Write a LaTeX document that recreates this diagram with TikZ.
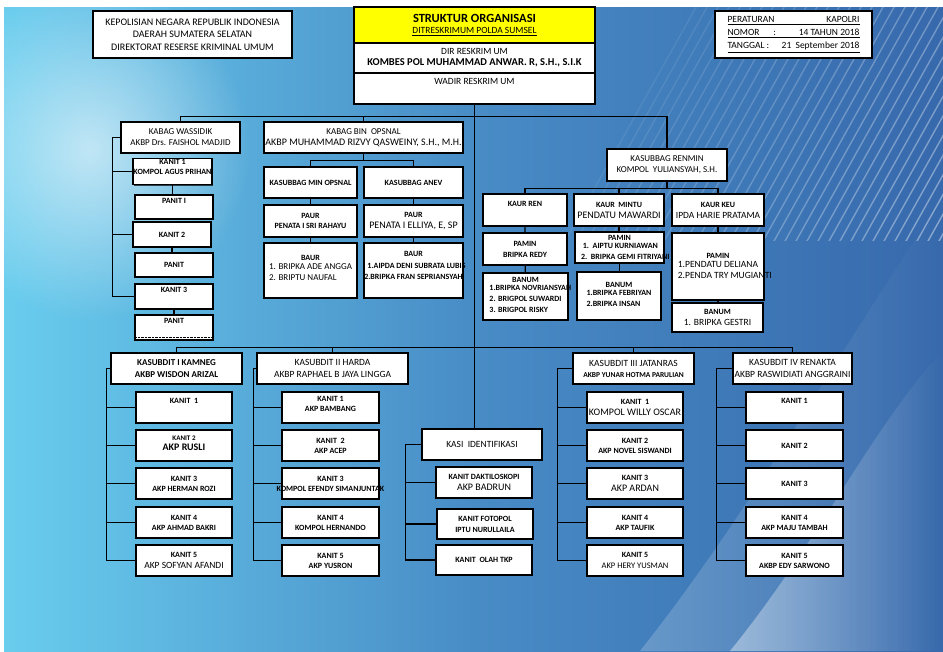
\documentclass[tikz,border=0pt]{standalone}
\usepackage{fontspec}
\setmainfont{Carlito}
\usetikzlibrary{shadows,fadings}

\definecolor{bgL}{RGB}{105,205,238}
\definecolor{bgM}{RGB}{72,140,198}
\definecolor{bgR}{RGB}{55,105,172}
\definecolor{titleY}{RGB}{255,255,0}
\tikzfading[name=glow,inner color=transparent!0,outer color=transparent!100]

% box from corner (x1,y1) to corner (x2,y2), then its name
\newcommand{\bx}[6][]{%
  \node[box,#1,minimum width={#4-#2},minimum height={#5-#3}] (#6) at ({(#2+#4)/2},{(#3+#5)/2})}
\newcommand{\ov}[1]{\makebox[0pt]{#1}}
\newcommand{\thul}[1]{\setbox0\hbox{#1}\leavevmode\rlap{\rule[-2.6pt]{\wd0}{1.3pt}}\box0}

\begin{document}
\begin{tikzpicture}[x=1pt,y=-1pt,
    box/.style={draw=black,line width=1.2pt,fill=white,inner sep=1pt,align=center,
      font=\fontsize{9}{11}\selectfont,
      drop shadow={shadow xshift=1pt,shadow yshift=-1pt,opacity=.7,fill=black}},
    kb/.style={font=\fontsize{8}{10}\selectfont\bfseries},
    link/.style={line width=1.2pt}]

  \useasboundingbox (0,0) rectangle (943,651);
  \fill[white] (0,0) rectangle (943,651);
  \shade[left color=bgL,right color=bgR,middle color=bgM] (4,7) rectangle (943,651);
  \fill[white,path fading=glow,opacity=.6] (90,150) ellipse (160 and 170);
  \fill[white,opacity=.4,path fading=east] (730,651) .. controls (820,540) and (870,430) .. (943,350) -- (943,651) -- cycle;
  \fill[white,opacity=.2,path fading=east] (640,651) .. controls (760,500) and (850,330) .. (943,200) -- (943,651) -- cycle;
  \begin{scope}
    \clip (560,7) rectangle (943,240);
    \foreach \i in {0,...,34}
      \draw[white,opacity={0.08+\i*0.01},line width=1.4pt] (560+\i*11,250) -- ++(140,-250);
  \end{scope}

  % heading
  \bx[font=\fontsize{10}{12.5}\selectfont]{93}{11}{292}{58}{hdrl}{KEPOLISIAN NEGARA REPUBLIK INDONESIA\\DAERAH SUMATERA SELATAN\\DIREKTORAT RESERSE KRIMINAL UMUM};
  \bx[align=left,font=\fontsize{9.5}{13}\selectfont]{715}{11}{872}{58}{hdrr}{\underline{\makebox[132pt][l]{PERATURAN\hfill KAPOLRI}}\\
    \underline{\makebox[132pt][l]{NOMOR\hspace{14pt}:\hfill 14 TAHUN 2018}}\\
    \underline{\makebox[132pt][l]{TANGGAL :\hfill 21\ \ September 2018}}};
  \bx[fill=titleY]{354}{7}{595}{43}{title}{\fontsize{12.5}{14}\selectfont\bfseries STRUKTUR ORGANISASI\\
    \fontsize{9.5}{13}\selectfont\mdseries\thul{DITRESKRIMUM POLDA SUMSEL}};
  \bx{354}{43}{595}{73}{dir}{\fontsize{9.5}{13}\selectfont DIR RESKRIM UM\\
    \fontsize{10.5}{12}\selectfont\bfseries KOMBES POL MUHAMMAD ANWAR. R, S.H., S.I.K};
  \bx[text depth=15pt,font=\fontsize{9.5}{11}\selectfont]{354}{73}{595}{104}{wadir}{WADIR RESKRIM UM};

  % kabag wassidik
  \bx{121}{122}{240}{153}{kabagw}{KABAG WASSIDIK\\AKBP Drs. FAISHOL MADJID};
  \bx[kb,text depth=9pt]{133}{159}{212}{184}{kw1}{KANIT 1\\\ov{KOMPOL AGUS PRIHAN}};
  \bx[kb,text depth=13pt]{135}{195}{213}{219}{pw1}{PANIT I};
  \bx[kb]{133}{222}{211}{247}{kw2}{KANIT 2};
  \bx[kb]{135}{253}{213}{277}{pw2}{PANIT};
  \bx[kb,text depth=13pt]{135}{284}{213}{309}{kw3}{KANIT 3};
  \bx[kb,text depth=13pt]{135}{315}{213}{340}{pw3}{PANIT};
  \draw[densely dotted] ([shift={(2,-3)}]pw3.south west) -- ([shift={(-2,-3)}]pw3.south east);

  % kabag bin opsnal
  \bx{264}{122}{463}{153}{kabagb}{KABAG BIN\ \ OPSNAL\\\fontsize{10}{12}\selectfont AKBP MUHAMMAD RIZVY QASWEINY, S.H., M.H.};
  \bx[kb]{264}{167}{357}{198}{ms1}{KASUBBAG MIN OPSNAL};
  \bx[kb]{364}{167}{463}{198}{ms2}{KASUBBAG ANEV};
  \bx[kb]{264}{205}{357}{237}{pa1}{PAUR\\PENATA I SRI RAHAYU};
  \bx{364}{205}{463}{237}{pa2}{\fontsize{8}{10}\selectfont\bfseries PAUR\\\fontsize{10}{12}\selectfont\mdseries PENATA I ELLIYA, E, SP};
  \bx[text depth=10pt]{264}{243}{357}{298}{ba1}{\fontsize{8}{10}\selectfont\bfseries BAUR\\\mdseries
    \begin{tabular}{@{}l@{}}1. BRIPKA ADE ANGGA\\2. BRIPTU NAUFAL\end{tabular}};
  \bx[kb,font=\fontsize{8}{11.5}\selectfont\bfseries,text depth=10pt]{364}{243}{463}{298}{ba2}{BAUR\\\ov{\hspace{6pt}1.AIPDA DENI SUBRATA LUBIS}\\\ov{2.BRIPKA FRAN SEPRIANSYAH}};

  % kasubbag renmin
  \bx{607}{149}{727}{181}{ren}{KASUBBAG RENMIN\\KOMPOL\ \ YULIANSYAH, S.H.};
  \bx[kb,text depth=13pt]{483}{194}{567}{226}{kr1}{KAUR REN};
  \bx{574}{194}{664}{226}{kr2}{\fontsize{8}{10}\selectfont\bfseries KAUR\ \ MINTU\\\fontsize{10}{12}\selectfont\mdseries PENDATU MAWARDI};
  \bx{672}{194}{764}{226}{kr3}{\fontsize{8}{10}\selectfont\bfseries KAUR KEU\\\fontsize{9.5}{12}\selectfont\mdseries IPDA HARIE PRATAMA};
  \bx[kb,font=\fontsize{8}{11}\selectfont\bfseries]{483}{233}{567}{265}{pm1}{PAMIN\\BRIPKA REDY};
  \bx[kb,font=\fontsize{8}{11}\selectfont\bfseries,text depth=6pt]{575}{232}{664}{263}{pm2}{PAMIN\\
    \begin{tabular}{@{}l@{}}\ 1.\ \ AIPTU KURNIAWAN\\\rlap{2.\ \ BRIPKA GEMI FITRIYANI}\hphantom{1.\ \ AIPTU KURNIAWAN}\end{tabular}};
  \bx[text depth=6pt]{672}{233}{764}{300}{pm3}{\fontsize{8}{11}\selectfont\bfseries PAMIN\\\fontsize{9.5}{11}\selectfont\mdseries
    \begin{tabular}{@{}l@{}}1.PENDATU DELIANA\\\rlap{2.PENDA TRY MUGIANTI}\hphantom{1.PENDATU DELIANA}\end{tabular}};
  \bx[kb,font=\fontsize{8}{11}\selectfont\bfseries]{483}{273}{568}{320}{bn1}{BANUM\\
    \begin{tabular}{@{}l@{}}\rlap{1.BRIPKA NOVRIANSYAH}\hphantom{2. BRIGPOL SUWARDI}\\2. BRIGPOL SUWARDI\\3. BRIGPOL RISKY\end{tabular}};
  \bx[kb,font=\fontsize{8}{11}\selectfont\bfseries]{577}{272}{661}{320}{bn2}{BANUM\\
    \begin{tabular}{@{}l@{}}1.BRIPKA FEBRIYAN\\2.BRIPKA INSAN\end{tabular}};
  \bx{672}{303}{763}{332}{bn3}{\fontsize{8}{10}\selectfont\bfseries BANUM\\\fontsize{9.5}{11}\selectfont\mdseries 1. BRIPKA GESTRI};

  % kasubdit
  \bx[font=\fontsize{9}{12}\selectfont\bfseries]{111}{353}{242}{384}{ks1}{KASUBDIT I KAMNEG\\AKBP WISDON ARIZAL};
  \bx[font=\fontsize{9.5}{12}\selectfont]{257}{353}{408}{384}{ks2}{KASUBDIT II HARDA\\AKBP RAPHAEL B JAYA LINGGA};
  \bx{573}{353}{694}{384}{ks3}{\fontsize{9.5}{12}\selectfont KASUBDIT III JATANRAS\\\fontsize{7.5}{10}\selectfont\bfseries AKBP YUNAR HOTMA PARULIAN};
  \bx[font=\fontsize{9.5}{12}\selectfont]{733}{353}{852}{384}{ks4}{KASUBDIT IV RENAKTA\\AKBP RASWIDIATI ANGGRAINI};

  \bx[kb,text depth=13pt]{136}{392}{232}{423}{k1n1}{KANIT\ \ 1};
  \bx[kb,text depth=5pt]{136}{430}{232}{461}{k1n2}{\fontsize{7}{8}\selectfont KANIT 2\\\fontsize{10}{12}\selectfont AKP RUSLI};
  \bx[kb]{136}{468}{232}{499}{k1n3}{KANIT 3\\AKP HERMAN ROZI};
  \bx[kb]{136}{507}{232}{538}{k1n4}{KANIT 4\\AKP AHMAD BAKRI};
  \bx{136}{545}{232}{576}{k1n5}{\fontsize{8}{11}\selectfont\bfseries KANIT 5\\\fontsize{9.5}{11}\selectfont\mdseries AKP SOFYAN AFANDI};

  \bx[kb,text depth=8pt]{282}{392}{379}{423}{k2n1}{KANIT 1\\AKP BAMBANG};
  \bx[kb]{282}{430}{379}{461}{k2n2}{KANIT\ \ 2\\AKP ACEP};
  \bx[kb]{282}{468}{379}{499}{k2n3}{KANIT 3\\\ov{KOMPOL EFENDY SIMANJUNTAK}};
  \bx[kb]{282}{507}{379}{538}{k2n4}{KANIT 4\\KOMPOL HERNANDO};
  \bx[kb]{282}{545}{379}{576}{k2n5}{KANIT 5\\AKP YUSRON};

  \bx[font=\fontsize{9.5}{11}\selectfont]{422}{429}{542}{460}{kasi}{KASI\ \ IDENTIFIKASI};
  \bx{436}{467}{532}{498}{kd1}{\fontsize{8}{11}\selectfont\bfseries KANIT DAKTILOSKOPI\\\fontsize{10}{11}\selectfont\mdseries AKP BADRUN};
  \bx[kb,font=\fontsize{8}{11}\selectfont\bfseries]{437}{509}{533}{539}{kd2}{KANIT FOTOPOL\\IPTU NURULLAILA};
  \bx[kb]{436}{545}{532}{575}{kd3}{KANIT\ \ OLAH TKP};

  \bx{587}{392}{683}{423}{k3n1}{\fontsize{8}{11}\selectfont\bfseries KANIT\ \ 1\\\fontsize{10}{12}\selectfont\mdseries KOMPOL WILLY OSCAR};
  \bx[kb]{587}{430}{683}{461}{k3n2}{KANIT 2\\AKP NOVEL SISWANDI};
  \bx{587}{468}{683}{499}{k3n3}{\fontsize{8}{11}\selectfont\bfseries KANIT 3\\\fontsize{10}{12}\selectfont\mdseries AKP ARDAN};
  \bx[kb]{587}{507}{683}{538}{k3n4}{KANIT 4\\AKP TAUFIK};
  \bx{587}{545}{683}{576}{k3n5}{\fontsize{8}{11}\selectfont\bfseries KANIT 5\\\fontsize{8.5}{11}\selectfont\mdseries AKP HERY YUSMAN};

  \bx[kb,text depth=13pt]{746}{392}{843}{423}{k4n1}{KANIT 1};
  \bx[kb]{746}{430}{843}{461}{k4n2}{KANIT 2};
  \bx[kb]{746}{468}{843}{499}{k4n3}{KANIT 3};
  \bx[kb]{746}{507}{843}{538}{k4n4}{KANIT 4\\AKP MAJU TAMBAH};
  \bx[kb]{746}{545}{843}{576}{k4n5}{KANIT 5\\AKBP EDY SARWONO};

  % connectors
  \path (wadir.south) ++(0,12) coordinate (j1) ++(0,231) coordinate (jm);
  \draw[link] (wadir.south) -- (wadir.south |- kasi.north);
  \draw[link] (kabagw.north) |- (j1) -| (ren.north);
  \draw[link] (kabagb.north) -- (kabagb.north |- j1);

  \coordinate (wo) at ([xshift=-8pt]kabagw.west);
  \draw[link] (kabagw.west) -- (wo) |- (kw3.west);
  \foreach \n in {kw1,kw2} \draw[link] (wo) |- (\n.west);
  \foreach \a/\b in {kw1/pw1,kw2/pw2,kw3/pw3} \draw[link] (\a.south) -- (\a.south |- \b.north);

  \draw[link] (kabagb.south) -- ++(0,7) coordinate (jb);
  \draw[link] (ms1.north) |- (jb) -| (ms2.north);
  \draw[link] (ms1) -- (pa1) -- (ba1);
  \draw[link] (ms2) -- (pa2) -- (ba2);

  \draw[link] (ren.south) -- ++(0,7) coordinate (jr);
  \draw[link] (kr1.north) |- (jr) -| (kr3.north);
  \draw[link] (kr2.north) -- (kr2.north |- jr);
  \draw[link] (kr1) -- (pm1) -- (bn1);
  \draw[link] (kr2.south) -- (kr2.south |- pm2.north);
  \draw[link] (pm2.south) -- (pm2.south |- bn2.north);
  \draw[link] (kr3.south) -- (kr3.south |- pm3.north);
  \draw[link] (pm3.south) -- (pm3.south |- bn3.north);

  \draw[link] (ks1.north) |- (jm) -| (ks4.north);
  \draw[link] (ks2.north) -- (ks2.north |- jm);
  \draw[link] (ks3.north) -- (ks3.north |- jm);
  \foreach \s/\k/\d in {ks1/k1/4,ks2/k2/3,ks3/k3/15,ks4/k4/16} {
    \coordinate (\k o) at ([xshift=-\d pt]\s.west);
    \draw[link] (\s.west) -- (\k o);
    \foreach \i in {1,...,5} \draw[link] (\k o) |- (\k n\i.west);
  }
  \coordinate (kio) at ([xshift=-16pt]kasi.west);
  \draw[link] (kasi.west) -- (kio);
  \foreach \n in {kd1,kd2,kd3} \draw[link] (kio) |- (\n.west);
\end{tikzpicture}
\end{document}
